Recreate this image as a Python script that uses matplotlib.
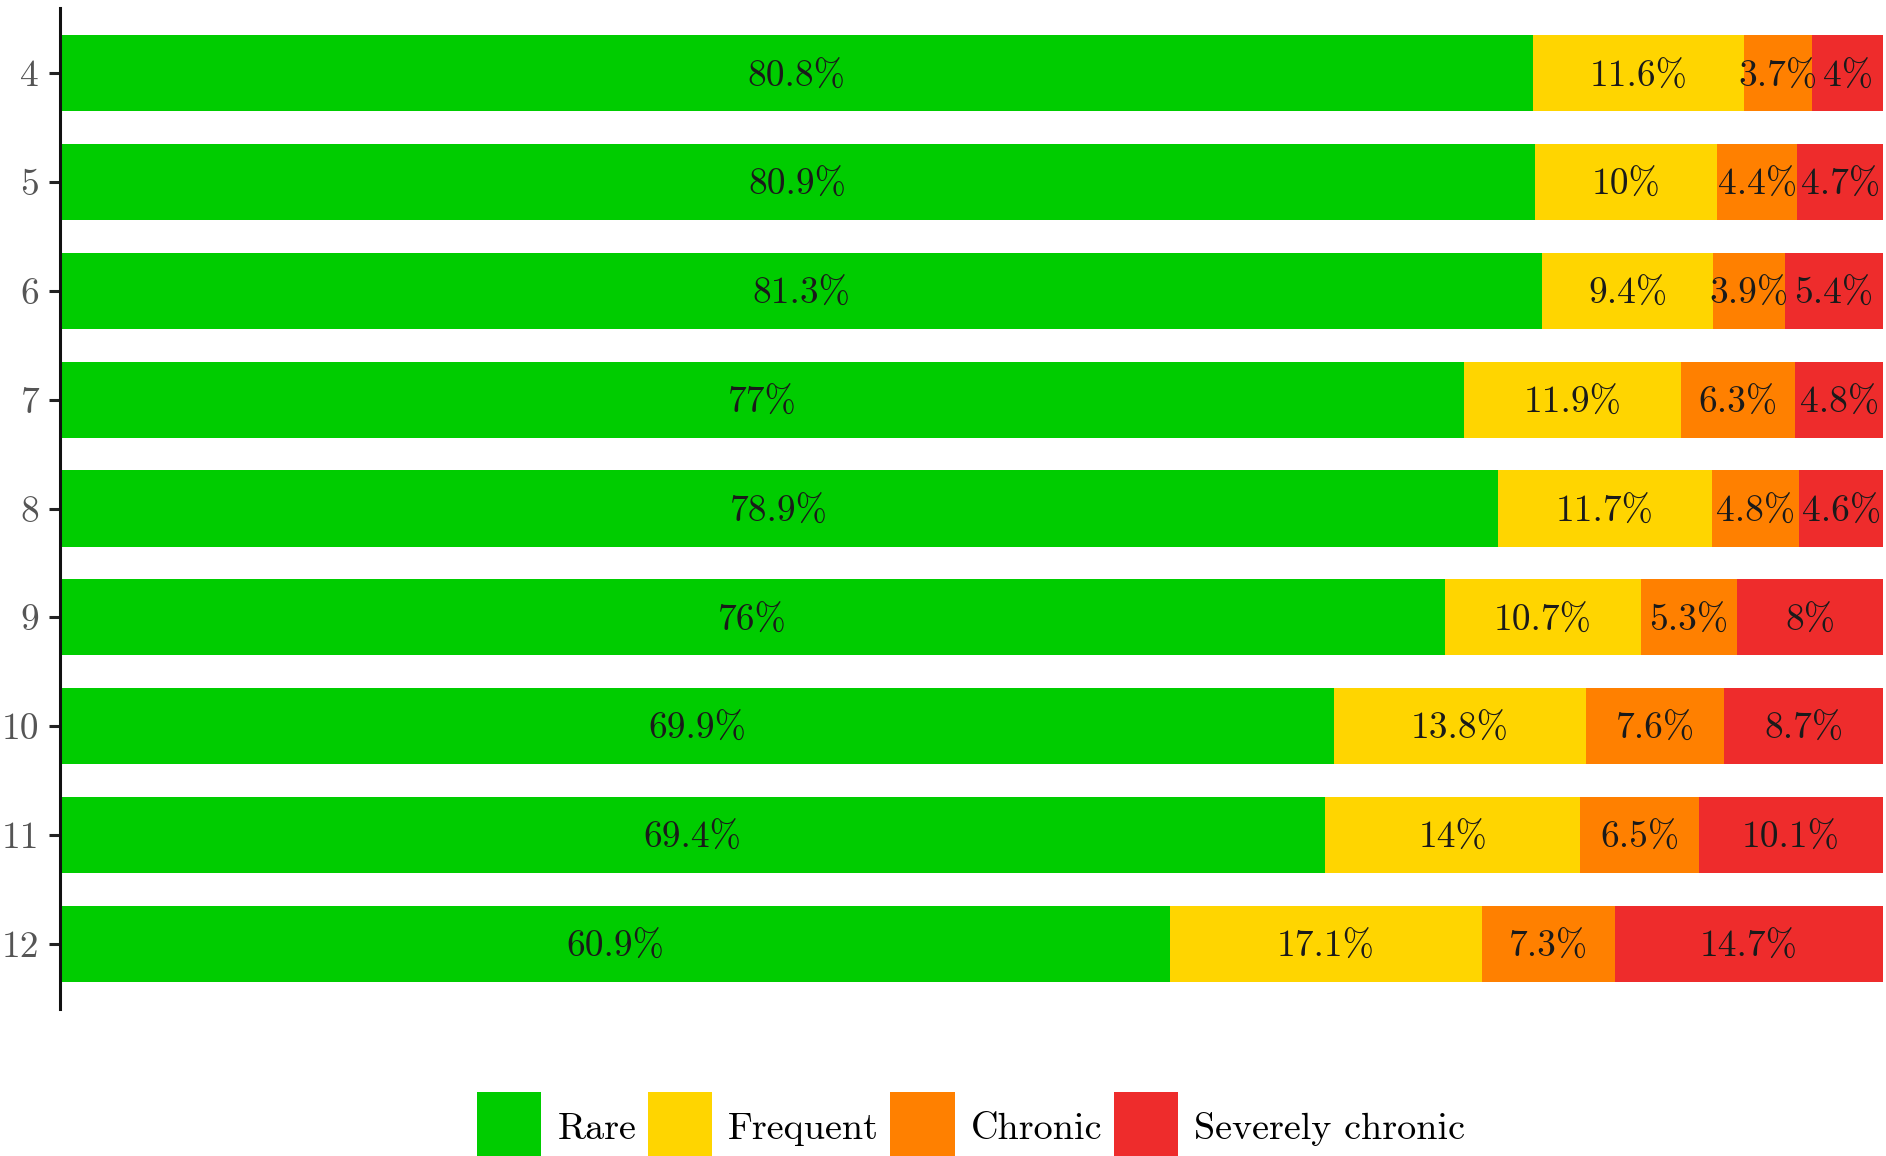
import matplotlib
matplotlib.use("Agg")
import matplotlib.pyplot as plt
from matplotlib.patches import Patch
import numpy as np

plt.rcParams['font.family'] = ['cmr10', 'DejaVu Serif']
plt.rcParams['axes.formatter.use_mathtext'] = True

ages = ["4", "5", "6", "7", "8", "9", "10", "11", "12"]
categories = ["Rare", "Frequent", "Chronic", "Severely chronic"]
rare = [80.8, 80.9, 81.3, 77, 78.9, 76, 69.9, 69.4, 60.9]
frequent = [11.6, 10, 9.4, 11.9, 11.7, 10.7, 13.8, 14, 17.1]
chronic = [3.7, 4.4, 3.9, 6.3, 4.8, 5.3, 7.6, 6.5, 7.3]
severe = [4, 4.7, 5.4, 4.8, 4.6, 8, 8.7, 10.1, 14.7]
colors = ["#00CC00", "#FFD500", "#FF8000", "#EE2C2C"]

series = [rare, frequent, chronic, severe]

fig = plt.figure(figsize=(18.86, 11.56), dpi=100)
top_px, bot_px = 8, 1009
ax = fig.add_axes([60/1886, 1 - bot_px/1156, (1883-60)/1886, (bot_px-top_px)/1156])

y = np.array([int(a) for a in ages])
left = np.zeros(len(ages))
for vals, col, name in zip(series, colors, categories):
    vals = np.array(vals, dtype=float)
    ax.barh(y, vals, left=left, height=0.7, color=col, label=name, linewidth=0)
    for yi, l, v in zip(y, left, vals):
        ax.annotate(f"{v:g}%", xy=(l + v/2, yi), xytext=(0, -2.5),
                    textcoords='offset points', ha='center', va='center',
                    fontsize=27, color='#1a1a1a')
    left += vals

ax.set_xlim(0, 100)
ax.set_ylim(12.6, 3.4)
ax.set_yticks(y)
ax.set_yticklabels(ages)
ax.set_xticks([])
for s in ['top', 'right', 'bottom']:
    ax.spines[s].set_visible(False)
ax.spines['left'].set_linewidth(2.2)
ax.spines['left'].set_color('#111111')
ax.tick_params(axis='y', length=8, width=2.2, color='#222222', pad=7,
               labelsize=27, labelcolor='#555555')

handles = [Patch(facecolor=c, edgecolor='none', label=n) for c, n in zip(colors, categories)]
fig.legend(handles=handles, loc='upper center', bbox_to_anchor=(971/1886, 1 - 1092/1156),
           ncol=4, frameon=False, fontsize=27.5, handlelength=1.68, handleheight=2.5,
           handletextpad=0.42, columnspacing=0.3, borderpad=0, borderaxespad=0)

fig.savefig("out.png", dpi=100, facecolor='white')
